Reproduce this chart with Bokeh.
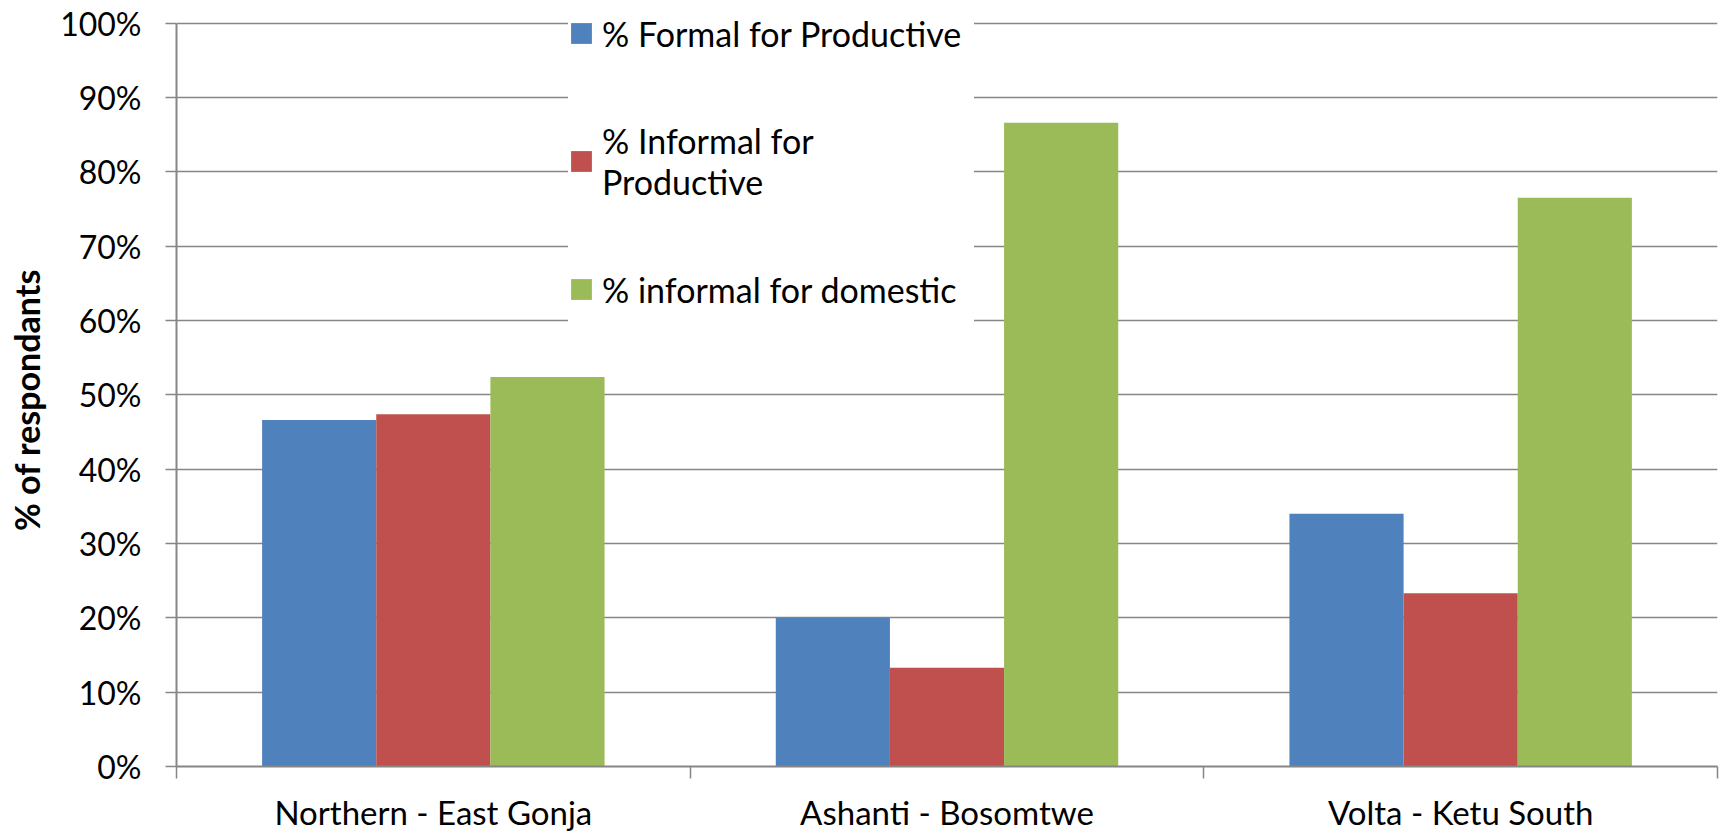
from bokeh.plotting import figure
from bokeh.models import (Range1d, FixedTicker, NumeralTickFormatter, Legend,
                          LegendItem, ColumnDataSource)
from bokeh.embed import file_html
from bokeh.resources import INLINE
import numpy as np

categories = ["Northern - East Gonja", "Ashanti - Bosomtwe", "Volta - Ketu South"]
series_names = ["% Formal for Productive", "% Informal for\nProductive", "% informal for domestic"]
formal_productive = [0.466, 0.200, 0.340]
informal_productive = [0.474, 0.133, 0.233]
informal_domestic = [0.524, 0.866, 0.765]
y_ticks = [0.0, 0.1, 0.2, 0.3, 0.4, 0.5, 0.6, 0.7, 0.8, 0.9, 1.0]
y_label = "% of respondants"

colors = ["#4F81BD", "#C0504D", "#9BBB59"]
series = [formal_productive, informal_productive, informal_domestic]
FONT = "Lato"
GREY = "#868686"

n = len(categories)
bar_w = 1 / 4.5
centers = np.arange(n) + 0.5

# headroom above the 100% line so the legend lies inside the frame
p = figure(width=1725, height=834, output_backend="svg", toolbar_location=None,
           x_range=Range1d(0, n), y_range=Range1d(0, 1.0305),
           min_border_left=176, min_border_right=8, min_border_top=0,
           min_border_bottom=68)
p.outline_line_color = None
p.background_fill_color = "white"

renderers = []
for i, (vals, col) in enumerate(zip(series, colors)):
    src = ColumnDataSource(dict(x=centers + (i - 1) * bar_w, top=vals))
    r = p.vbar(x="x", top="top", bottom=0, width=bar_w, source=src,
               fill_color=col, line_color=None)
    renderers.append(r)

# x axis
xa = p.xaxis[0]
xa.ticker = FixedTicker(ticks=list(centers), minor_ticks=list(range(n + 1)))
xa.major_label_overrides = {float(c): cat for c, cat in zip(centers, categories)}
xa.major_tick_line_color = None
xa.major_tick_out = 0
xa.major_tick_in = 0
xa.minor_tick_out = 12
xa.minor_tick_in = 0
xa.minor_tick_line_color = GREY
xa.minor_tick_line_width = 1.5
xa.axis_line_color = GREY
xa.axis_line_width = 2
xa.major_label_text_font = FONT
xa.major_label_text_font_size = "33px"
xa.major_label_text_color = "black"
xa.major_label_standoff = 13

# y axis
ya = p.yaxis[0]
ya.bounds = (0, 1)
ya.ticker = FixedTicker(ticks=y_ticks)
ya.formatter = NumeralTickFormatter(format="0%")
ya.axis_line_color = GREY
ya.axis_line_width = 2
ya.major_tick_line_color = GREY
ya.major_tick_line_width = 1.5
ya.major_tick_out = 11
ya.major_tick_in = 0
ya.minor_tick_line_color = None
ya.major_label_text_font = FONT
ya.major_label_text_font_size = "32px"
ya.major_label_text_color = "black"
ya.major_label_standoff = 24
# trailing non-breaking spaces re-centre the rotated label on the 0-100% span
ya.axis_label = y_label + "\u00a0" * 4
ya.axis_label_text_font = FONT
ya.axis_label_text_font_style = "bold"
ya.axis_label_text_font_size = "34px"
ya.axis_label_text_color = "black"
ya.axis_label_standoff = 10

p.xgrid.grid_line_color = None
p.ygrid.ticker = FixedTicker(ticks=y_ticks)
p.ygrid.grid_line_color = GREY
p.ygrid.grid_line_width = 1.5

legend = Legend(
    items=[LegendItem(label=name, renderers=[r]) for name, r in zip(series_names, renderers)],
    location=(392, 442),
    orientation="vertical",
    border_line_color=None,
    background_fill_color="white",
    background_fill_alpha=1.0,
    label_text_font=FONT,
    label_text_font_size="34px",
    label_text_color="black",
    glyph_width=26,
    glyph_height=26,
    label_height=70,
    label_width=372,
    label_standoff=8,
    padding=30,
    spacing=52,
    margin=0,
)
p.add_layout(legend, "center")

open("out.html", "w").write(file_html(p, INLINE))
